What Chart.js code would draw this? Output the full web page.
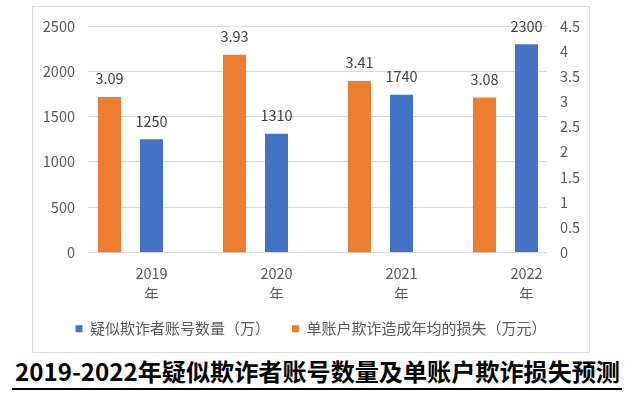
<!DOCTYPE html>
<html>
<head>
<meta charset="utf-8">
<script src="https://cdn.jsdelivr.net/npm/chart.js@4"></script>
<style>
  html, body { margin: 0; padding: 0; background: #fff; }
  body { width: 640px; height: 398px; position: relative; overflow: hidden; }
  #box { position: absolute; left: 32px; top: 6px; width: 558px; height: 347px;
         box-sizing: border-box; border: 1px solid #d9d9d9; }
  #myChart { display: block; }
  #title { position: absolute; left: 0; top: 354px; width: 640px; height: 40px;
           font-family: 'Noto Sans CJK SC', sans-serif; font-weight: bold; font-size: 24px;
           line-height: 34px; color: #000; white-space: nowrap; }
  #title span { display: inline-block; transform-origin: 0 0; }
  #uline { position: absolute; left: 12px; top: 388px; width: 610px; height: 2px; background: #000; }
</style>
</head>
<body>
<div id="box"><canvas id="myChart" width="556" height="345"></canvas></div>
<div id="title"><span id="titleText"></span></div>
<div id="uline"></div>
<script>
var titleText = '2019-2022年疑似欺诈者账号数量及单账户欺诈损失预测';
var years = [2019, 2020, 2021, 2022];
var accounts = [1250, 1310, 1740, 2300];
var losses = [3.09, 3.93, 3.41, 3.08];
var accountLabel = '疑似欺诈者账号数量（万）';
var lossLabel = '单账户欺诈造成年均的损失（万元）';

// title, stretched a little to the width of the original
var t = document.getElementById('titleText');
t.textContent = titleText;
var w = t.getBoundingClientRect().width;
t.style.transform = 'translateX(15px) scaleX(' + (605 / w) + ')';

Chart.defaults.font.family = "'Noto Sans CJK SC', sans-serif";
Chart.defaults.font.size = 14.5;
Chart.defaults.color = '#595959';

// value labels above each bar
var barLabels = {
  id: 'barLabels',
  afterDatasetsDraw: function(chart) {
    var c = chart.ctx;
    c.save();
    c.font = "14.5px 'Noto Sans CJK SC', sans-serif";
    c.fillStyle = '#404040';
    c.textAlign = 'center';
    c.textBaseline = 'middle';
    chart.data.datasets.forEach(function(ds, i) {
      chart.getDatasetMeta(i).data.forEach(function(bar, j) {
        c.fillText(String(ds.data[j].y), bar.x, bar.y - 18);
      });
    });
    c.restore();
  }
};

var ctx = document.getElementById('myChart').getContext('2d');
var myChart = new Chart(ctx, {
  type: 'bar',
  data: {
    datasets: [{
      label: lossLabel,
      data: years.map(function(y, i) { return {x: y, y: losses[i]}; }),
      backgroundColor: '#ED7D31',
      yAxisID: 'y2'
    }, {
      label: accountLabel,
      data: years.map(function(y, i) { return {x: y, y: accounts[i]}; }),
      backgroundColor: '#4472C4',
      yAxisID: 'y'
    }]
  },
  options: {
    responsive: false,
    animation: false,
    categoryPercentage: 0.672,
    barPercentage: 0.5476,
    layout: { padding: { left: 0, right: 0, top: 7, bottom: 5.75 } },
    plugins: {
      legend: {
        position: 'bottom',
        reverse: true,
        labels: { boxWidth: 7, boxHeight: 7, padding: 22, color: '#595959', font: { size: 15 } }
      },
      tooltip: { enabled: false }
    },
    scales: {
      x: {
        type: 'linear',
        offset: false,
        min: 2018.66,
        max: 2022.332,
        afterBuildTicks: function(s) { s.ticks = years.map(function(v) { return {value: v}; }); },
        afterFit: function(s) { s.height = 46.75; },
        grid: { display: false, drawTicks: false },
        border: { display: false },
        ticks: {
          padding: 10.5,
          labelOffset: 21,
          autoSkip: false,
          maxRotation: 0,
          font: { lineHeight: 1.448 },
          callback: function(v) { return [String(v), '年']; }
        }
      },
      y: {
        position: 'left',
        min: 0,
        max: 2500,
        afterFit: function(s) { s.width = 55; },
        grid: { color: '#d9d9d9', drawTicks: false },
        border: { display: false },
        ticks: { stepSize: 500, padding: 13, font: { lineHeight: 0.83 }, callback: function(v) { return String(v); } }
      },
      y2: {
        position: 'right',
        min: 0,
        max: 4.5,
        afterFit: function(s) { s.width = 42; },
        grid: { display: false, drawTicks: false },
        border: { display: false },
        ticks: { stepSize: 0.5, padding: 13, font: { lineHeight: 0.83 }, callback: function(v) { return String(v); } }
      }
    }
  },
  plugins: [barLabels]
});
</script>
</body>
</html>
